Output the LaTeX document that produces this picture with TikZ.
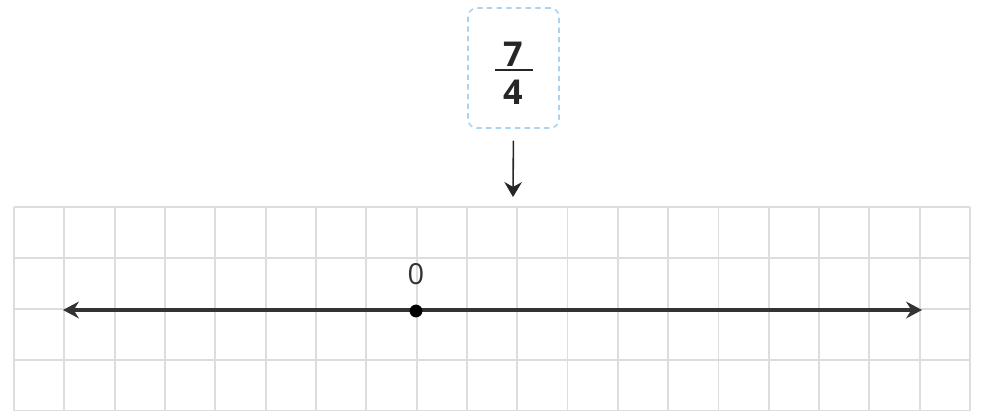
\documentclass[tikz,border=0pt]{standalone}
\usepackage{fontspec}
\setmainfont{Open Sans}
\usetikzlibrary{arrows.meta}
\definecolor{gridgray}{HTML}{DDDDDD}
\definecolor{linegray}{HTML}{333333}
\definecolor{boxblue}{HTML}{A9D3F0}
\tikzset{
  gridline/.style={draw=gridgray, line width=1.1pt},
  numline/.style={draw=linegray, line width=1.9pt, {Stealth[length=9pt,width=9.5pt]}-{Stealth[length=9pt,width=9.5pt]}},
  pointer/.style={draw=black!85, line width=0.9pt, -{Stealth[length=8.5pt,width=10pt]}},
  fracbox/.style={draw=boxblue, dashed, dash pattern=on 3pt off 2.5pt, line width=0.9pt, rounded corners=5pt, minimum width=51.8pt, minimum height=68.3pt, inner sep=0pt},
  fracnum/.style={font=\fontsize{19.5}{22}\selectfont\bfseries, text=black!85, inner sep=0pt, anchor=base},
  zerolabel/.style={font=\fontsize{16.5}{18}\selectfont, text=black!80, inner sep=0pt, anchor=base},
}
\begin{document}
\begin{tikzpicture}[x=0.02cm, y=-0.02cm]
\useasboundingbox (0,0) rectangle (988,410);
% grid
\begin{scope}
\clip (0,0) rectangle (988,410);
\foreach \i in {0,...,19} {
  \draw[gridline] ({14+50.32*\i},207) -- ({14+50.32*\i},420);
}
\foreach \j in {0,...,4} {
  \draw[gridline] (14,{207+51*\j}) -- (970,{207+51*\j});
}
\end{scope}
% number line
\coordinate (lend) at (63,310);
\coordinate (rend) at (922,310);
\draw[numline] (lend) -- (rend);
\node[circle, fill=black, inner sep=0pt, minimum size=7.3pt] (zero) at (416,311) {};
\node[zerolabel] (zlab) at (416,284) {0};
% fraction box
\node[fracbox] (frac) at (513.5,68) {};
\node[fracnum] (num) at (513,66) {7};
\node[fracnum] (den) at (513,104) {4};
\coordinate (barl) at (495,70);
\coordinate (barr) at (533,70);
\draw[black!85, line width=1.2pt] (barl) -- (barr);
% pointer
\coordinate (ptip) at (513,197);
\draw[pointer, shorten <=6.8pt] (frac.south) -- (ptip);
\end{tikzpicture}
\end{document}
